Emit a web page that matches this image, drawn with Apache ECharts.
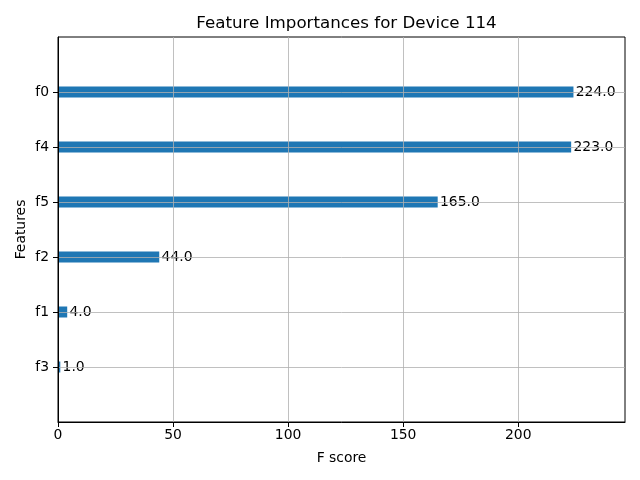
<!DOCTYPE html>
<html>
<head>
<meta charset="utf-8">
<script src="https://cdn.jsdelivr.net/npm/echarts@6/dist/echarts.min.js"></script>
<style>html,body{margin:0;padding:0;background:#fff;}#c{width:640px;height:480px;}</style>
</head>
<body>
<div id="c"></div>
<script>
const features = ['', 'f3', 'f1', 'f2', 'f5', 'f4', 'f0', ''];
const scores = ['-', 1, 4, 44, 165, 223, 224, '-'];
const xTicks = [0, 50, 100, 150, 200];
const titleText = 'Feature Importances for Device 114';

const chart = echarts.init(document.getElementById('c'), null, {renderer: 'canvas'});
const font = 'DejaVu Sans';
const notEmpty = (i, v) => v !== '';
chart.setOption({
  animation: false,
  backgroundColor: '#fff',
  title: {
    text: titleText, left: 341.5, top: 10, textAlign: 'center',
    textStyle: {fontFamily: font, fontSize: 16.7, fontWeight: 'normal', color: '#000'}
  },
  grid: {left: 58, right: 15, top: 37, bottom: 58, show: true, borderColor: '#000', borderWidth: 1, containLabel: false},
  xAxis: {
    type: 'value', min: 0, max: 246.4, interval: 50, z: 3,
    name: 'F score', nameLocation: 'middle', nameGap: 29,
    nameTextStyle: {fontFamily: font, fontSize: 13.9, color: '#000'},
    axisLine: {show: true, lineStyle: {color: '#000', width: 1}},
    axisTick: {show: true, length: 5, customValues: xTicks, lineStyle: {color: '#000'}},
    axisLabel: {fontFamily: font, fontSize: 13.9, color: '#000', margin: 6, customValues: xTicks},
    splitLine: {show: true, lineStyle: {color: '#b0b0b0', width: 0.8}}
  },
  yAxis: {
    type: 'category', data: features, boundaryGap: false, z: 3,
    name: 'Features', nameLocation: 'middle', nameGap: 30, nameRotate: 90, nameMoveOverlap: false,
    nameTextStyle: {fontFamily: font, fontSize: 13.9, color: '#000'},
    axisLine: {show: true, lineStyle: {color: '#000', width: 1}},
    axisTick: {show: true, length: 5, interval: notEmpty, lineStyle: {color: '#000'}},
    axisLabel: {fontFamily: font, fontSize: 13.9, color: '#000', margin: 9, interval: 0},
    splitLine: {show: true, interval: notEmpty, lineStyle: {color: '#b0b0b0', width: 0.8}}
  },
  series: [{
    type: 'bar', data: scores, barWidth: 11, z: 2,
    itemStyle: {color: '#1f77b4'},
    label: {show: true, position: 'right', distance: 2.3, fontFamily: font, fontSize: 13.9, color: '#000',
      formatter: p => Number(p.value).toFixed(1)}
  }]
});
</script>
</body>
</html>
